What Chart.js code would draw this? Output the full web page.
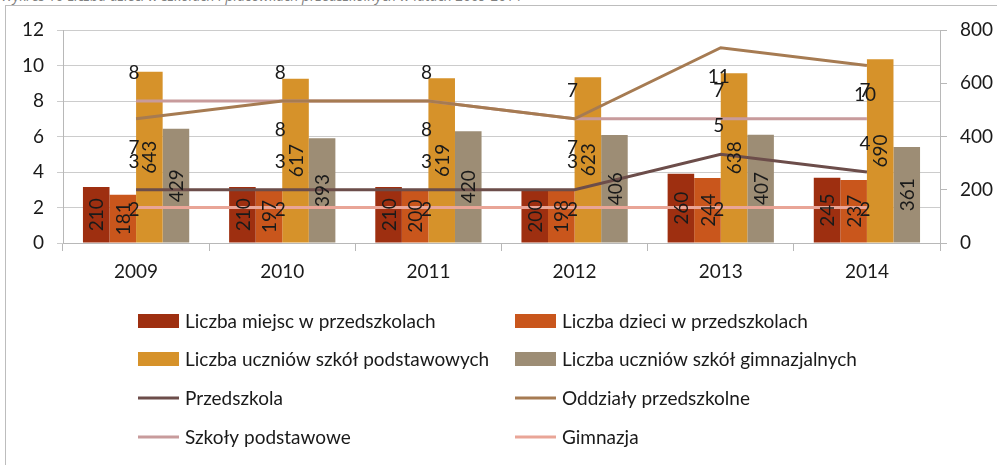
<!DOCTYPE html>
<html>
<head>
<meta charset="utf-8">
<script src="https://cdn.jsdelivr.net/npm/chart.js@4.4.1/dist/chart.umd.min.js"></script>
<style>
  html, body { margin: 0; padding: 0; background: #fff; }
  #wrap { position: relative; width: 997px; height: 465px; overflow: hidden; }
  #caption { position: absolute; left: 1px; top: -14px; font: italic 14px "Open Sans"; color: #808080; white-space: nowrap; }
  #frame { position: absolute; left: 5px; top: 5px; width: 1100px; height: 600px; border-left: 1px solid #bdbdbd; border-top: 1px solid #bdbdbd; }
  canvas { position: absolute; left: 0; top: 0; }
</style>
</head>
<body>
<div id="wrap">
  <div id="caption">Wykres 10 Liczba dzieci w szkołach i placówkach przedszkolnych w latach 2009-2014</div>
  <div id="frame"></div>
  <canvas id="chart" width="997" height="465"></canvas>
</div>
<script>
// lata
const years = ["2009", "2010", "2011", "2012", "2013", "2014"];

// słupki (prawa oś)
const miejscPrzedszkola = [210, 210, 210, 200, 260, 245];
const dzieciPrzedszkola = [181, 197, 200, 198, 244, 237];
const uczniowiePodst = [643, 617, 619, 623, 638, 690];
const uczniowieGimn = [429, 393, 420, 406, 407, 361];

// linie (lewa oś) - liczba placówek
const przedszkola = [3, 3, 3, 3, 5, 4];
const oddzialy = [7, 8, 8, 7, 11, 10];
const szkolyPodst = [8, 8, 8, 7, 7, 7];
const gimnazja = [2, 2, 2, 2, 2, 2];

const leftTicks = [0, 2, 4, 6, 8, 10, 12];
const rightTicks = [0, 200, 400, 600, 800];

const FONT = 'Lato';
const TEXT = '#1a1a1a';

Chart.defaults.font.family = FONT;
Chart.defaults.font.size = 19;
Chart.defaults.color = TEXT;

// etykiety wartości
const valueLabels = {
  id: 'valueLabels',
  afterDatasetsDraw(chart) {
    const ctx = chart.ctx;
    ctx.save();
    ctx.font = '19px ' + FONT;
    ctx.fillStyle = TEXT;
    ctx.textAlign = 'center';
    ctx.textBaseline = 'middle';
    chart.data.datasets.forEach((ds, i) => {
      const meta = chart.getDatasetMeta(i);
      meta.data.forEach((el, j) => {
        const v = ds.data[j];
        if (ds.type === 'bar') {
          const p = el.getProps(['x', 'y', 'base'], true);
          ctx.save();
          ctx.translate(p.x, (p.y + p.base) / 2);
          ctx.rotate(-Math.PI / 2);
          ctx.fillText(String(v), 0, 1);
          ctx.restore();
        } else {
          ctx.fillText(String(v), el.x + ds.labelDx, el.y + ds.labelDy);
        }
      });
    });
    ctx.restore();
  }
};

// legenda w dwóch kolumnach
const gridLegend = {
  id: 'gridLegend',
  afterDraw(chart) {
    const ctx = chart.ctx;
    const cols = [138, 515];
    const rows = [321, 359, 398, 437];
    ctx.save();
    ctx.font = '19px ' + FONT;
    ctx.textAlign = 'left';
    ctx.textBaseline = 'middle';
    chart.data.datasets.forEach((ds, i) => {
      const x = cols[i % 2];
      const y = rows[Math.floor(i / 2)];
      if (ds.type === 'bar') {
        ctx.fillStyle = ds.backgroundColor;
        ctx.fillRect(x, y - 7, 41, 14);
      } else {
        ctx.fillStyle = ds.borderColor;
        ctx.fillRect(x, y - 1.5, 41, 3);
      }
      ctx.fillStyle = TEXT;
      ctx.fillText(ds.label, x + 47, y + 1);
    });
    ctx.restore();
  }
};

function bar(label, data, color) {
  return { type: 'bar', label, data, backgroundColor: color, yAxisID: 'y1', order: 1 };
}
function line(label, data, color, dy) {
  return {
    type: 'line', label, data, borderColor: color, backgroundColor: color,
    borderWidth: 3, pointRadius: 0, tension: 0, yAxisID: 'y', order: 0,
    labelDx: -2, labelDy: dy
  };
}

new Chart(document.getElementById('chart'), {
  type: 'bar',
  data: {
    labels: years,
    datasets: [
      bar('Liczba miejsc w przedszkolach', miejscPrzedszkola, '#9e2f10'),
      bar('Liczba dzieci w przedszkolach', dzieciPrzedszkola, '#c9561c'),
      bar('Liczba uczniów szkół podstawowych', uczniowiePodst, '#d6922a'),
      bar('Liczba uczniów szkół gimnazjalnych', uczniowieGimn, '#9d8d75'),
      line('Przedszkola', przedszkola, '#6c4d4a', -28),
      line('Oddziały przedszkolne', oddzialy, '#a67b52', 29),
      line('Szkoły podstawowe', szkolyPodst, '#c89b9c', -28),
      line('Gimnazja', gimnazja, '#e9a597', 2)
    ]
  },
  options: {
    responsive: false,
    animation: false,
    layout: { padding: { left: 0, right: 0, top: 30, bottom: 182 } },
    datasets: { bar: { categoryPercentage: 0.727, barPercentage: 1 } },
    plugins: { legend: { display: false }, tooltip: { enabled: false } },
    scales: {
      x: {
        grid: { offset: true, drawOnChartArea: false, drawTicks: true, tickLength: 8, color: '#b8b8b8' },
        border: { color: '#b8b8b8' },
        ticks: { padding: 9 },
        afterFit(s) { s.height = 40; }
      },
      y: {
        position: 'left', min: 0, max: 12,
        afterBuildTicks(s) { s.ticks = leftTicks.map(v => ({ value: v })); },
        grid: { color: '#cccccc', tickLength: 6 },
        border: { color: '#b8b8b8' },
        ticks: { padding: 13 },
        afterFit(s) { s.width = 63; }
      },
      y1: {
        position: 'right', min: 0, max: 800,
        afterBuildTicks(s) { s.ticks = rightTicks.map(v => ({ value: v })); },
        grid: { drawOnChartArea: false, color: '#b8b8b8', tickLength: 7 },
        border: { color: '#b8b8b8' },
        ticks: { padding: 13 },
        afterFit(s) { s.width = 57; }
      }
    }
  },
  plugins: [valueLabels, gridLegend]
});
</script>
</body>
</html>
